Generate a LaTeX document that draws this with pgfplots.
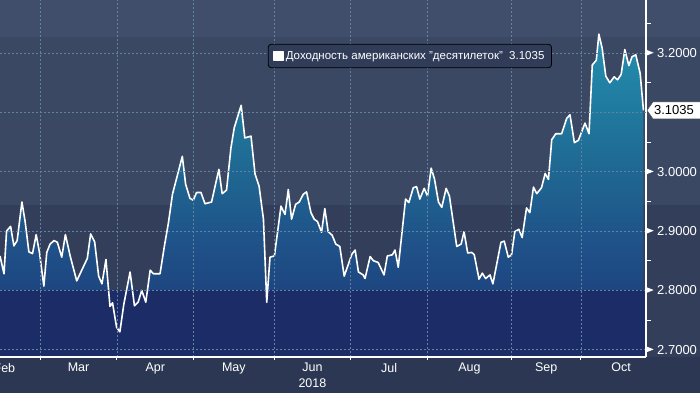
\documentclass[border=0pt]{standalone}
\usepackage{fontspec}
\setmainfont{Liberation Sans}
\usepackage{pgfplots}
\pgfplotsset{compat=1.18}
\usepackage{pgfplotstable}

\definecolor{bgtop}{HTML}{414E6B}
\definecolor{bgmid}{HTML}{3B4864}
\definecolor{bglow}{HTML}{333F5A}
\definecolor{bgbot}{HTML}{2C3853}
\definecolor{navy}{HTML}{1B2C66}
\definecolor{gridc}{HTML}{6282A4}
\definecolor{legbg}{HTML}{303C58}
\definecolor{fa}{HTML}{1E4681}
\definecolor{fb}{HTML}{1F558A}
\definecolor{fc}{HTML}{1F6792}
\definecolor{fd}{HTML}{20799E}
\definecolor{fe}{HTML}{238AAB}
\pgfdeclareverticalshading{yieldfill}{100bp}{color(0bp)=(fa); color(35.3bp)=(fa); color(44.5bp)=(fb); color(53.7bp)=(fc); color(62.9bp)=(fd); color(72.1bp)=(fe); color(100bp)=(fe)}

\pgfplotstableread{
i v
0 2.858
1.1 2.828
1.8 2.900
2.9 2.908
3.8 2.875
4.7 2.884
6.0 2.949
6.9 2.915
7.9 2.865
8.9 2.862
9.9 2.894
10.8 2.864
12.0 2.807
12.8 2.864
13.7 2.878
14.8 2.884
15.7 2.881
16.9 2.856
17.9 2.894
19.2 2.858
21.0 2.816
23.9 2.854
24.8 2.895
25.9 2.882
27.0 2.824
27.9 2.811
29.0 2.852
30.1 2.773
30.8 2.779
31.9 2.738
32.8 2.730
33.9 2.777
35.6 2.831
36.8 2.774
37.8 2.780
38.8 2.800
39.9 2.780
41.1 2.834
42.0 2.828
43.8 2.828
45.0 2.875
46.1 2.914
47.2 2.962
49.9 3.026
50.8 2.979
52.0 2.955
52.9 2.952
53.8 2.965
55.0 2.965
56.1 2.946
57.9 2.949
59.9 3.004
60.8 2.963
62.0 2.969
63.2 3.040
64.1 3.074
66.0 3.112
67.0 3.057
68.7 3.060
69.8 2.996
70.9 2.976
72.1 2.920
73.0 2.780
73.9 2.856
75.1 2.858
76.9 2.942
78.0 2.928
78.9 2.970
79.8 2.920
80.9 2.945
81.9 2.949
83.0 2.962
83.9 2.966
85.1 2.931
86.0 2.920
86.9 2.916
88.0 2.898
88.9 2.938
89.8 2.899
90.9 2.893
91.9 2.878
93.0 2.874
94.2 2.824
96.3 2.861
97.2 2.868
98.1 2.831
99.4 2.826
99.9 2.820
101.3 2.857
102.2 2.850
103.5 2.847
105.1 2.826
106.0 2.858
107.4 2.860
108.1 2.868
109.0 2.839
111.0 2.954
111.9 2.948
113.1 2.973
114.0 2.975
114.9 2.954
116.1 2.972
117.0 2.959
118.0 3.006
118.9 2.988
120.0 2.949
120.9 2.940
122.1 2.972
123.0 2.959
125.0 2.874
126.2 2.878
127.0 2.899
128.0 2.863
129.1 2.864
129.8 2.860
131.1 2.819
132.0 2.829
132.9 2.820
134.1 2.826
134.9 2.811
137.1 2.881
138.0 2.883
139.1 2.856
140.0 2.860
140.9 2.899
142.0 2.903
142.9 2.889
144.1 2.939
145.0 2.931
146.0 2.974
146.9 2.963
148.2 2.973
149.2 2.997
150.1 2.987
151.0 3.054
152.1 3.064
153.7 3.064
155.1 3.090
156.0 3.096
157.2 3.049
158.3 3.053
160.1 3.082
161.2 3.064
162.1 3.180
163.2 3.188
163.9 3.232
164.8 3.208
165.8 3.161
166.9 3.150
168.1 3.160
169.0 3.155
170.0 3.164
171.0 3.206
172.1 3.179
173.0 3.194
174.0 3.197
175.2 3.166
176.1 3.1035
}\yields

\begin{document}
\begin{tikzpicture}
\fill[bgbot] (0pt,0pt) rectangle (700pt,393pt);
\fill[bglow] (0pt,36pt) rectangle (700pt,188pt);
\fill[bgmid] (0pt,188pt) rectangle (700pt,356pt);
\fill[bgtop] (0pt,356pt) rectangle (700pt,393pt);
\begin{axis}[
  at={(0pt,36pt)}, anchor=south west,
  scale only axis, width=646pt, height=357pt,
  xmin=0, xmax=176.8, ymin=2.6877, ymax=3.2895,
  clip=false,
  axis on top,
  axis y line*=right, axis x line*=bottom,
  axis line style={white, line width=1.2pt, -},
  tick align=outside,
  major tick length=3pt, minor tick length=5pt,
  tick style={white, line width=1pt},
  xtick={11,32,53,75,96,117,140,159},
  xticklabels={},
  extra x ticks={1.2,21.5,42.5,64,85.5,106.5,128.5,149.5,170},
  extra x tick labels={Feb,Mar,Apr,May,{Jun\\2018},Jul,Aug,Sep,Oct},
  extra x tick style={major tick length=0pt, xmajorgrids=false},
  xticklabel style={text=white, font=\fontsize{12.5}{16}\selectfont, align=center, anchor=north, inner sep=0pt, yshift=-6pt},
  ytick={2.7,2.8,2.9,3.0,3.2},
  minor ytick={2.75,2.85,2.95,3.05,3.15,3.25},
  extra y ticks={3.1},
  extra y tick labels={},
  extra y tick style={major tick length=0pt},
  yticklabel={\raisebox{2.2pt}{\tikz\fill[white] (0pt,-2.6pt)--(6.5pt,0pt)--(0pt,2.6pt)--cycle;}\hspace{3.5pt}\pgfmathprintnumber[fixed,fixed zerofill,precision=4]{\tick}},
  yticklabel style={text=white, font=\fontsize{13}{15}\selectfont, anchor=west, inner sep=0pt, xshift=-2pt},
  /pgf/number format/assume math mode=true,
  xmajorgrids=true, ymajorgrids=true,
  major grid style={gridc, line width=0.8pt, dash pattern=on 2pt off 2pt},
  legend style={at={(axis cs:73.3,3.2156)}, anchor=north west, fill=legbg, draw=black, line width=0.8pt, rounded corners=3pt, text=white, font=\fontsize{11.5}{13}\selectfont, inner xsep=5pt, inner ysep=5pt},
  legend cell align=left,
]
\addplot[draw=none, shading=yieldfill, forget plot] table[x=i,y=v]{\yields} -- (axis cs:176.1,2.6877) -- (axis cs:0,2.6877) -- cycle;
\addplot[draw=none, fill=navy, forget plot] coordinates {(0,2.6877) (176.8,2.6877) (176.8,2.8) (0,2.8)} -- cycle;
\addplot[white, line width=1.6pt, line join=round, mark=none,
  legend image code/.code={\fill[white, sharp corners] (0pt,-4.5pt) rectangle (9pt,4.5pt);}] table[x=i,y=v]{\yields};
\addlegendentry{Доходность американских "десятилеток"\ \ 3.1035}
\draw[fill=white, draw=black!70, line width=0.5pt] ([xshift=1pt]axis cs:176.8,3.1035) -- ++(6pt,8.5pt) -- ++(50pt,0pt) -- ++(0pt,-17pt) -- ++(-50pt,0pt) -- cycle;
\node[text=black, font=\fontsize{13}{15}\selectfont, inner sep=0pt] at ([xshift=28pt]axis cs:176.8,3.1035) {3.1035};
\end{axis}
\pgfresetboundingbox
\useasboundingbox (0pt,0pt) rectangle (700pt,393pt);
\end{tikzpicture}
\end{document}
